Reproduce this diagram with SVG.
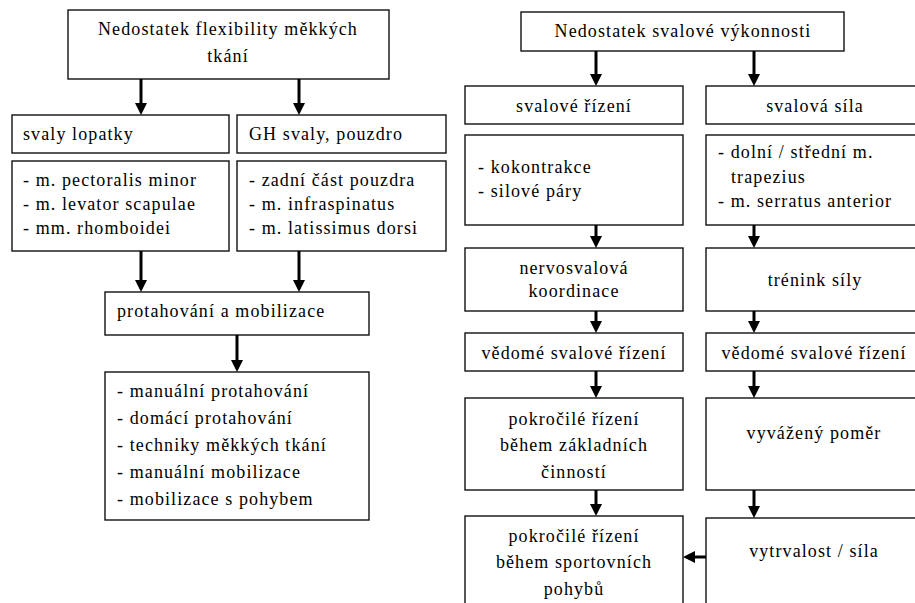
<svg xmlns="http://www.w3.org/2000/svg" width="915" height="603" viewBox="0 0 915 603">
<style>
  .box { fill: #fff; stroke: #111; stroke-width: 1.4; }
  .t { font-family: 'Liberation Serif', 'Times New Roman', serif; font-size: 18px; letter-spacing: 1.1px; fill: #000; }
  .c { text-anchor: middle; }
  .conn { stroke: #000; stroke-width: 3; fill: none; marker-end: url(#arrow); }
</style>
<defs>
  <marker id="arrow" viewBox="0 0 12 12" refX="2" refY="6" markerWidth="12" markerHeight="12" markerUnits="userSpaceOnUse" orient="auto">
    <path d="M0,0 L12,6 L0,12 z" fill="#000"/>
  </marker>
</defs>
<rect width="915" height="603" fill="#fff"/>

<g class="t">
<!-- Left column -->
<g id="n-flex">
  <rect class="box" x="68" y="10" width="321" height="69"/>
  <text class="c" x="228" y="35">Nedostatek flexibility měkkých</text>
  <text class="c" x="228" y="62">tkání</text>
</g>
<g id="n-svaly-lopatky">
  <rect class="box" x="12" y="115" width="217" height="38"/>
  <text x="23" y="140">svaly lopatky</text>
</g>
<g id="n-gh">
  <rect class="box" x="237" y="115" width="209" height="38"/>
  <text x="249" y="140">GH svaly, pouzdro</text>
</g>
<g id="n-lopatky-list">
  <rect class="box" x="12" y="161" width="217" height="90"/>
  <text x="23" y="186">- m. pectoralis minor</text>
  <text x="23" y="210">- m. levator scapulae</text>
  <text x="23" y="234">- mm. rhomboidei</text>
</g>
<g id="n-gh-list">
  <rect class="box" x="237" y="161" width="209" height="90"/>
  <text x="249" y="186">- zadní část pouzdra</text>
  <text x="249" y="210">- m. infraspinatus</text>
  <text x="249" y="234">- m. latissimus dorsi</text>
</g>
<g id="n-protahovani">
  <rect class="box" x="105" y="292" width="264" height="43"/>
  <text x="117" y="317">protahování a mobilizace</text>
</g>
<g id="n-protahovani-list">
  <rect class="box" x="105" y="372" width="264" height="148"/>
  <text x="117" y="397">- manuální protahování</text>
  <text x="117" y="424">- domácí protahování</text>
  <text x="117" y="451">- techniky měkkých tkání</text>
  <text x="117" y="478">- manuální mobilizace</text>
  <text x="117" y="505">- mobilizace s pohybem</text>
</g>

<!-- Right column -->
<g id="n-vykon">
  <rect class="box" x="521" y="12" width="323" height="39"/>
  <text class="c" x="683" y="37">Nedostatek svalové výkonnosti</text>
</g>
<g id="n-rizeni">
  <rect class="box" x="465" y="86" width="218" height="38"/>
  <text class="c" x="574" y="112">svalové řízení</text>
</g>
<g id="n-sila">
  <rect class="box" x="706" y="86" width="220" height="38"/>
  <text class="c" x="815" y="112">svalová síla</text>
</g>
<g id="n-rizeni-list">
  <rect class="box" x="465" y="135" width="218" height="90"/>
  <text x="478" y="173">- kokontrakce</text>
  <text x="478" y="197">- silové páry</text>
</g>
<g id="n-sila-list">
  <rect class="box" x="706" y="135" width="220" height="90"/>
  <text x="718" y="158">- dolní / střední m.</text>
  <text x="731" y="183">trapezius</text>
  <text x="718" y="207">- m. serratus anterior</text>
</g>
<g id="n-nervo">
  <rect class="box" x="465" y="248" width="218" height="63"/>
  <text class="c" x="574" y="274">nervosvalová</text>
  <text class="c" x="574" y="297">koordinace</text>
</g>
<g id="n-trenink">
  <rect class="box" x="706" y="248" width="220" height="63"/>
  <text class="c" x="815" y="286">trénink síly</text>
</g>
<g id="n-vedome-l">
  <rect class="box" x="465" y="333" width="218" height="38"/>
  <text class="c" x="574" y="359">vědomé svalové řízení</text>
</g>
<g id="n-vedome-r">
  <rect class="box" x="706" y="333" width="220" height="38"/>
  <text class="c" x="814" y="359">vědomé svalové řízení</text>
</g>
<g id="n-zakladni">
  <rect class="box" x="465" y="398" width="218" height="92"/>
  <text class="c" x="574" y="425">pokročilé řízení</text>
  <text class="c" x="574" y="451">během základních</text>
  <text class="c" x="574" y="478">činností</text>
</g>
<g id="n-pomer">
  <rect class="box" x="706" y="398" width="220" height="92"/>
  <text class="c" x="814" y="439">vyvážený poměr</text>
</g>
<g id="n-sport">
  <rect class="box" x="465" y="516" width="218" height="100"/>
  <text class="c" x="574" y="542">pokročilé řízení</text>
  <text class="c" x="574" y="568">během sportovních</text>
  <text class="c" x="574" y="595">pohybů</text>
</g>
<g id="n-vytrvalost">
  <rect class="box" x="706" y="518" width="220" height="100"/>
  <text class="c" x="814" y="557">vytrvalost / síla</text>
</g>
</g>

<g id="connectors">
  <line class="conn" x1="141" y1="79" x2="141" y2="105"/>
  <line class="conn" x1="299" y1="79" x2="299" y2="105"/>
  <line class="conn" x1="141" y1="251" x2="141" y2="282"/>
  <line class="conn" x1="299" y1="251" x2="299" y2="282"/>
  <line class="conn" x1="237" y1="335" x2="237" y2="362"/>

  <line class="conn" x1="596" y1="51" x2="596" y2="76"/>
  <line class="conn" x1="754" y1="51" x2="754" y2="76"/>
  <line class="conn" x1="596" y1="225" x2="596" y2="238"/>
  <line class="conn" x1="754" y1="225" x2="754" y2="238"/>
  <line class="conn" x1="596" y1="311" x2="596" y2="323"/>
  <line class="conn" x1="754" y1="311" x2="754" y2="323"/>
  <line class="conn" x1="596" y1="371" x2="596" y2="388"/>
  <line class="conn" x1="754" y1="371" x2="754" y2="388"/>
  <line class="conn" x1="596" y1="490" x2="596" y2="506"/>
  <line class="conn" x1="754" y1="490" x2="754" y2="508"/>
  <line class="conn" x1="706" y1="557" x2="693" y2="557"/>
</g>
</svg>
